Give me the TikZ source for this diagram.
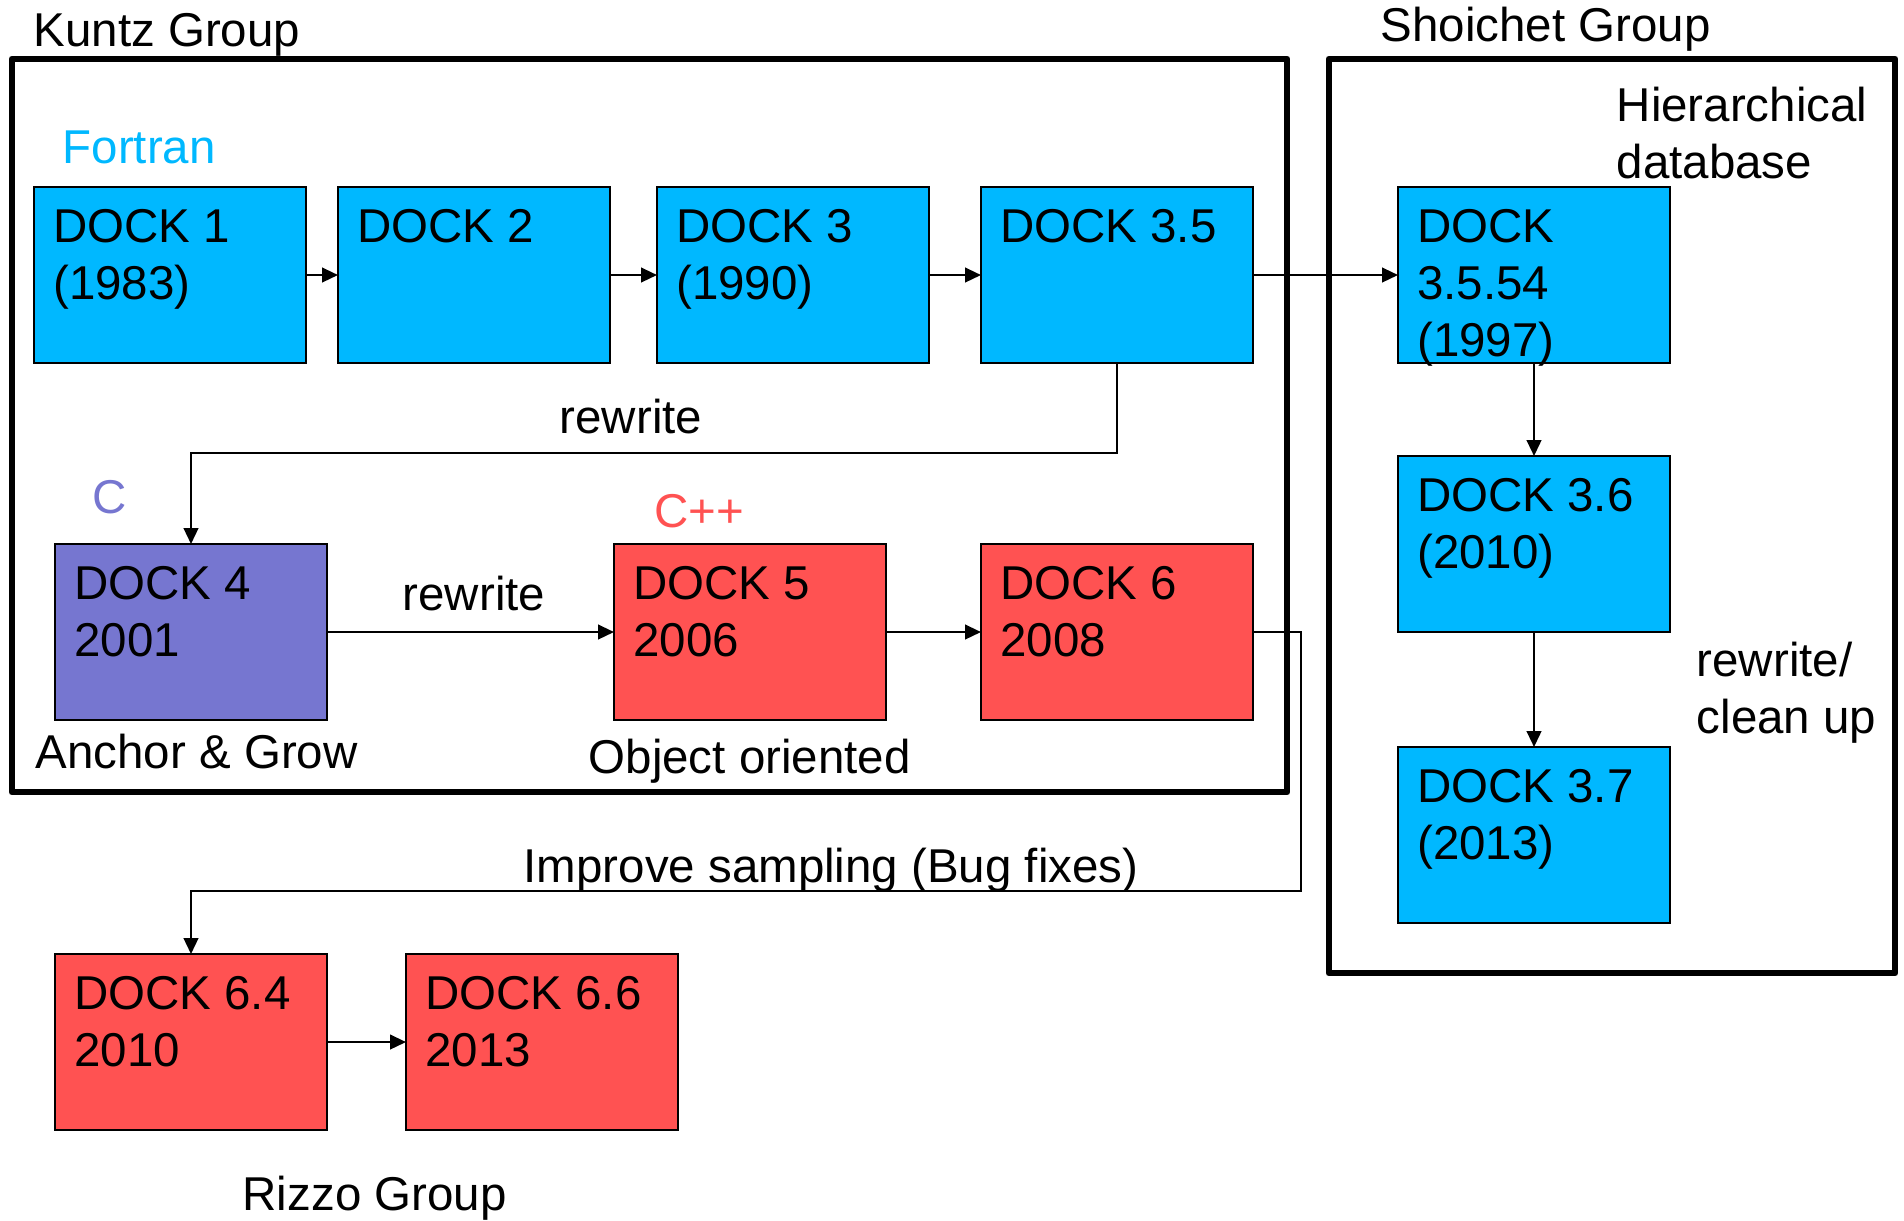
\documentclass[tikz,border=0pt]{standalone}
\usepackage{fontspec}
\setmainfont{Liberation Sans}
\usepackage{xcolor}
\usepackage{tikz}
\usetikzlibrary{arrows.meta}

\definecolor{dockblue}{RGB}{0,184,255}
\definecolor{dockpurple}{RGB}{118,118,208}
\definecolor{dockred}{RGB}{255,82,82}

\begin{document}
\begin{tikzpicture}[x=0.01cm, y=-0.01cm,
        font=\fontsize{13.5pt}{16.2pt}\selectfont,
        dock/.style={draw, line width=0.6pt, minimum width=2.72cm, minimum height=1.76cm,
            outer sep=0pt, inner sep=0pt,
            label={[anchor=north west, align=left, inner xsep=5.3pt, inner ysep=6.3pt]north west:#1}},
        txt/.style={anchor=base west, inner sep=0pt},
        conn/.style={line width=0.45pt, -{Triangle[length=4.5pt,width=4.2pt]}},
        group/.style={line width=1.9pt, line join=round}]
        \useasboundingbox (0,0) rectangle (1904,1220);

        % groups
        \draw[group] (12,59) rectangle (1287,792);
        \draw[group] (1329,59) rectangle (1895,973);
        \node[txt] (kuntz) at (33,46) {Kuntz Group};
        \node[txt] (shoichet) at (1380,41) {Shoichet Group};
        \node[txt] (rizzo) at (242,1210) {Rizzo Group};

        % Fortran
        \node[txt, text=dockblue] (fortran) at (62,163) {Fortran};
        \node[dock={DOCK 1\\(1983)}, fill=dockblue] (d1) at (170,275) {};
        \node[dock={DOCK 2}, fill=dockblue] (d2) at (474,275) {};
        \node[dock={DOCK 3\\(1990)}, fill=dockblue] (d3) at (793,275) {};
        \node[dock={DOCK 3.5}, fill=dockblue] (d35) at (1117,275) {};

        % C, C++
        \node[txt, text=dockpurple] (clang) at (92,513) {C};
        \node[txt, text=dockred] (cpp) at (654,527) {C++};
        \node[dock={DOCK 4\\2001}, fill=dockpurple] (d4) at (191,632) {};
        \node[dock={DOCK 5\\2006}, fill=dockred] (d5) at (750,632) {};
        \node[dock={DOCK 6\\2008}, fill=dockred] (d6) at (1117,632) {};
        \node[txt] (anchor) at (35,768) {Anchor \& Grow};
        \node[txt] (object) at (588,773) {Object oriented};

        % Shoichet
        \node[anchor=north west, align=left, inner sep=0pt] (hier) at (1616,86) {Hierarchical\\database};
        \node[dock={DOCK\\3.5.54\\(1997)}, fill=dockblue] (d3554) at (1534,275) {};
        \node[dock={DOCK 3.6\\(2010)}, fill=dockblue] (d36) at (1534,544) {};
        \node[dock={DOCK 3.7\\(2013)}, fill=dockblue] (d37) at (1534,835) {};
        \node[anchor=north west, align=left, inner sep=0pt] (clean) at (1696,641) {rewrite/\\clean up};

        % Rizzo
        \node[dock={DOCK 6.4\\2010}, fill=dockred] (d64) at (191,1042) {};
        \node[dock={DOCK 6.6\\2013}, fill=dockred] (d66) at (542,1042) {};

        \draw[conn] (d1) -- (d2);
        \draw[conn] (d2) -- (d3);
        \draw[conn] (d3) -- (d35);
        \draw[conn] (d35) -- (d3554);
        \draw[conn] (d3554) -- (d36);
        \draw[conn] (d36) -- (d37);
        \draw[conn] (d35.south) -- ++(0,90) -| (d4.north); % rewrite
        \node[txt] (rw1) at (559,433) {rewrite};
        \draw[conn] (d4) -- (d5); % rewrite
        \node[txt] (rw2) at (402,610) {rewrite};
        \draw[conn] (d5) -- (d6);
        \draw[conn] (d6.east) -- ++(48,0) -- ++(0,259) -| (d64.north); % bug fixes
        \node[txt] (improve) at (523,882) {Improve sampling (Bug fixes)};
        \draw[conn] (d64) -- (d66);
    \end{tikzpicture}
\end{document}
